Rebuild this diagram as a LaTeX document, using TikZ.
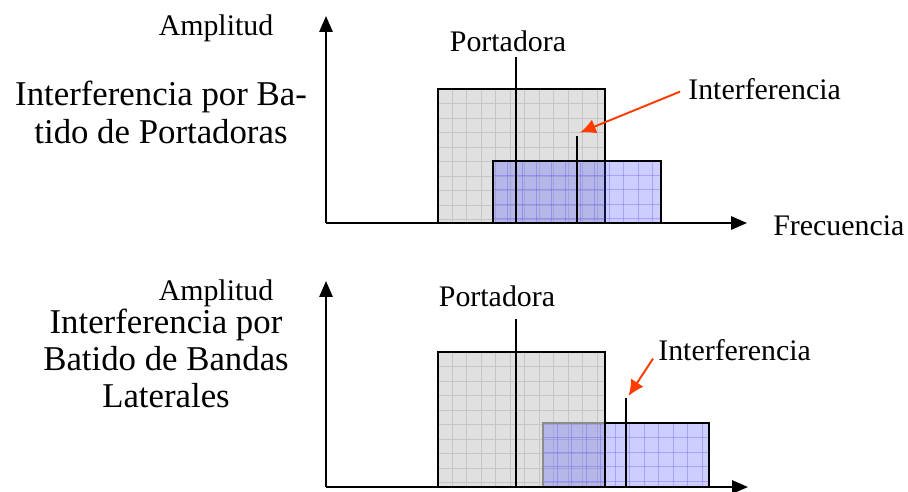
\documentclass[tikz,border=0pt]{standalone}
\usepackage{fontspec}
\setmainfont{Liberation Serif}
\usepackage{xcolor}
\usepackage{tikz}
\usetikzlibrary{arrows.meta}
\definecolor{bandgray}{RGB}{224,224,224}
\definecolor{gridgray}{RGB}{198,198,198}
\definecolor{bandblue}{RGB}{63,63,255}
\definecolor{arrowred}{RGB}{255,60,0}
\tikzstyle{axis} = [draw, -{Triangle[length=9pt,width=7.5pt]}, line width=1.1pt]
\tikzstyle{redarrow} = [draw=arrowred, -{Latex[length=9pt,width=8.5pt]}, line width=1.1pt]
\tikzstyle{tone} = [draw, line width=1.3pt]
\tikzstyle{border} = [draw, line width=1pt]
\tikzstyle{grayfill} = [fill=bandgray]
\tikzstyle{graygrid} = [draw=gridgray, line width=0.45pt]
\tikzstyle{bluefill} = [fill=bandblue, fill opacity=0.26]
\tikzstyle{bluegrid} = [draw=bandblue, draw opacity=0.28, line width=0.45pt]
\tikzstyle{label} = [inner sep=0pt, font=\fontsize{17}{20}\selectfont]
\tikzstyle{title} = [inner sep=0pt, align=center]
% band with its own grid, #5 = gray or blue
\newcommand{\bandbox}[5]{%
  \begin{scope}
    \clip (#1,#2) rectangle (#3,#4);
    \path[#5fill] (#1,#2) rectangle (#3,#4);
    \foreach \k in {1,...,12} {
      \path[#5grid] ({#1+14.5*\k},#2) -- ({#1+14.5*\k},#4);
      \path[#5grid] (#1,{#2+14.5*\k}) -- (#3,{#2+14.5*\k});
    }
  \end{scope}}

\begin{document}
\begin{tikzpicture}[x=0.02cm, y=-0.02cm]
  \useasboundingbox (0,0) rectangle (908,491);

  % --- upper panel: carrier beat
  \coordinate (oA) at (326,223);
  \coordinate (yA) at (326,16);
  \coordinate (xA) at (747,223);
  \coordinate (carA) at (516,57);
  \coordinate (carAb) at (516,223);
  \coordinate (intAt) at (576.7,136);
  \coordinate (intAb) at (576.7,223);
  \coordinate (tipA) at (580,132.5);

  \bandbox{437.7}{89}{605}{223}{gray}
  \path[border] (437.7,223) rectangle (605,89);
  \bandbox{493}{160.7}{661}{223}{blue}
  \path[border] (493,223) rectangle (661,160.7);

  \path[tone] (carA) -- (carAb);
  \path[tone] (intAt) -- (intAb);
  \path[axis] (oA) -- (yA);
  \path[axis] (oA) -- (xA);

  \node[label, anchor=base] (ampA) at (216,35) {Amplitud};
  \node[label, anchor=base] (portA) at (508,51.7) {Portadora};
  \node[label, anchor=base west] (interA) at (688,99) {Interferencia};
  \node[label, anchor=base west] (freqA) at (773,235) {Frecuencia};
  \node[title, anchor=base, font=\fontsize{19.8}{21.5}\selectfont] (titleA) at (161,143)
    {Interferencia por Ba-\\tido de Portadoras};
  \path[redarrow] ([shift={(-8,3)}]interA.west) -- (tipA);

  % --- lower panel: sideband beat
  \coordinate (oB) at (326,487);
  \coordinate (yB) at (326,281);
  \coordinate (xB) at (748,487);
  \coordinate (carB) at (516,319);
  \coordinate (carBb) at (516,487);
  \coordinate (intBt) at (626,398);
  \coordinate (intBb) at (626,487);
  \coordinate (tipB) at (628.5,396);

  \bandbox{437.7}{352.3}{605}{487}{gray}
  \bandbox{542.7}{423.3}{709.3}{487}{blue}
  \path[border, draw=black!45] (542.7,487) |- (605,423.3);
  \path[border] (605,423.3) -| (709.3,487);
  \path[border] (437.7,487) rectangle (605,352.3);

  \path[tone] (carB) -- (carBb);
  \path[tone] (intBt) -- (intBb);
  \path[axis] (oB) -- (yB);
  \path[axis] (oB) -- (xB);

  \node[label, anchor=base] (ampB) at (216,300) {Amplitud};
  \node[label, anchor=base] (portB) at (497,306.7) {Portadora};
  \node[label, anchor=base west] (interB) at (658,360) {Interferencia};
  \node[title, anchor=base, font=\fontsize{19.8}{21}\selectfont] (titleB) at (166,407)
    {Interferencia por\\Batido de Bandas\\Laterales};
  \path[redarrow] ([shift={(-5,9)}]interB.west) -- (tipB);
\end{tikzpicture}
\end{document}
